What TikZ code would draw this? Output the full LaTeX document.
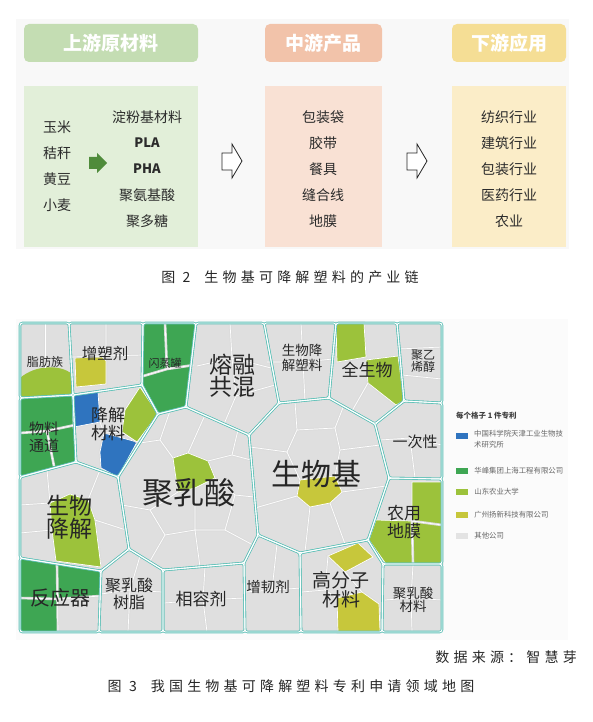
\documentclass[tikz,border=0pt]{standalone}
\usepackage{fontspec}
\setmainfont{Noto Sans CJK SC}
\newfontfamily\capfont[LetterSpace=30]{Noto Sans CJK SC}
\usetikzlibrary{positioning}

\definecolor{hdgreen}{HTML}{C4DDB3}
\definecolor{hdsalmon}{HTML}{F2C3AA}
\definecolor{hdyellow}{HTML}{F5DE95}
\definecolor{bxgreen}{HTML}{E2EFD9}
\definecolor{bxsalmon}{HTML}{F9E1D4}
\definecolor{bxyellow}{HTML}{FBEDC8}
\definecolor{arrgreen}{HTML}{4F8B3B}
\definecolor{panelbg}{HTML}{F8F8F8}
\definecolor{cellgray}{HTML}{DFDFDF}
\definecolor{tealline}{HTML}{62C2B9}
\definecolor{cblue}{HTML}{2F74BF}
\definecolor{cgreen}{HTML}{3EA653}
\definecolor{clime}{HTML}{9CC23B}
\definecolor{cyellow}{HTML}{C7C73B}
\definecolor{cother}{HTML}{E3E3E3}
\definecolor{txtdark}{HTML}{2B2B2B}

\newcommand{\fsz}[1]{\fontsize{#1}{#1}\selectfont}

% regions of the patent map
\newcommand{\rgZhifang}{(TL) -- (T1) -- (J1) -- (L3) -- cycle}
\newcommand{\rgZengsu}{(T1) -- (T2) -- (J2) -- (J1) -- cycle}
\newcommand{\rgShanzheng}{(T2) -- (T3) -- (J4) -- (J3) -- (J2) -- cycle}
\newcommand{\rgRongrong}{(T3) -- (T4) -- (J6) -- (J5) -- (J4) -- cycle}
\newcommand{\rgSwjjsl}{(T4) -- (T5) -- (J7) -- (J6) -- cycle}
\newcommand{\rgQuansw}{(T5) -- (T6) -- (J9) -- (J8) -- (J7) -- cycle}
\newcommand{\rgPva}{(T6) -- (TR) -- (R1) -- (J9) -- cycle}
\newcommand{\rgYicixing}{(J9) -- (R1) -- (R2) -- (J10) -- (J8) -- cycle}
\newcommand{\rgShengwuji}{(J6) -- (J7) -- (J8) -- (J10) -- (J11) -- (J13) -- (J14) -- (J5) -- cycle}
\newcommand{\rgNongyong}{(J10) -- (R2) -- (R3) -- (J12) -- (J11) -- cycle}
\newcommand{\rgPlacl}{(J12) -- (R3) -- (BR) -- (B1) -- cycle}
\newcommand{\rgGaofenzi}{(J11) -- (J12) -- (B1) -- (B2) -- (J13) -- cycle}
\newcommand{\rgZengren}{(J14) -- (J13) -- (B2) -- (B3) -- (J15) -- cycle}
\newcommand{\rgXiangrong}{(J15) -- (B3) -- (B4) -- (J16) -- cycle}
\newcommand{\rgPla}{(J3) -- (J4) -- (J5) -- (J14) -- (J15) -- (J16) -- (J17) -- (J19) -- cycle}
\newcommand{\rgShuzhi}{(J17) -- (J16) -- (B4) -- (B5) -- (J18) -- cycle}
\newcommand{\rgFanyingqi}{(L1) -- (J18) -- (B5) -- (BL) -- cycle}
\newcommand{\rgSwjj}{(L2) -- (J20) -- (J19) -- (J17) -- (J18) -- (L1) -- cycle}
\newcommand{\rgJjcl}{(J1) -- (J2) -- (J3) -- (J19) -- (J20) -- cycle}
\newcommand{\rgWltd}{(L3) -- (J1) -- (J20) -- (L2) -- cycle}
\newcommand{\allRegions}{\rgZhifang,\rgZengsu,\rgShanzheng,\rgRongrong,\rgSwjjsl,\rgQuansw,\rgPva,\rgYicixing,\rgShengwuji,\rgNongyong,\rgPlacl,\rgGaofenzi,\rgZengren,\rgXiangrong,\rgPla,\rgShuzhi,\rgFanyingqi,\rgSwjj,\rgJjcl,\rgWltd}

\begin{document}
\begin{tikzpicture}[x=1pt,y=-1pt,
  hdbox/.style={rounded corners=5pt, minimum width=#1, minimum height=38pt, inner sep=0pt,
    text=white, font=\fsz{19}\bfseries},
  bx/.style={minimum height=161pt, inner sep=0pt},
  item/.style={text=txtdark, font=\fsz{14}, inner sep=0pt},
  latin/.style={text=txtdark, font=\fsz{13}\bfseries, inner sep=0pt},
  openarr/.style={draw=black!85, fill=white, line width=0.8pt},
  cellline/.style={draw=white, line width=0.7pt, preaction={draw=black!14, line width=2.6pt}},
  rborder/.style={draw=tealline, line width=2.6pt, rounded corners=2.5pt},
  rgap/.style={draw=white, line width=0.9pt, rounded corners=2.5pt},
  lab/.style={text=black!85, inner sep=0pt, align=center},
  legsq/.style={minimum width=12pt, minimum height=6pt, inner sep=0pt},
  legtx/.style={text=black!60, font=\fsz{7.4}, inner sep=0pt, align=left},
  captext/.style={text=black!85, font=\capfont\fsz{14}, inner sep=0pt}]
\useasboundingbox (0,0) rectangle (592,722);
\fill[white] (0,0) rectangle (592,722);

% figure 2
\fill[panelbg] (16,19) rectangle (569,249);
\node[hdbox=174pt, fill=hdgreen] (hdUp) at (111,43) {上游原材料};
\node[hdbox=117pt, fill=hdsalmon] (hdMid) at (323.5,43) {中游产品};
\node[hdbox=114pt, fill=hdyellow] (hdDown) at (509,43) {下游应用};
\node[bx, fill=bxgreen, minimum width=174pt] (bxUp) at (111,166.5) {};
\node[bx, fill=bxsalmon, minimum width=117pt] (bxMid) at (323.5,166.5) {};
\node[bx, fill=bxyellow, minimum width=114pt] (bxDown) at (509,166.5) {};

\node[item] (raw1) at (57,127) {玉米};
\node[item] (raw2) at (57,153) {秸秆};
\node[item] (raw3) at (57,179) {黄豆};
\node[item] (raw4) at (57,205) {小麦};
\node[item] (mat1) at (147,117) {淀粉基材料};
\node[latin] (mat2) at (147,143) {PLA};
\node[latin] (mat3) at (147,169) {PHA};
\node[item] (mat4) at (147,195) {聚氨基酸};
\node[item] (mat5) at (147,221) {聚多糖};
\fill[arrgreen] (89,157) -- (97,157) -- (97,153) -- (107,163) -- (97,173) -- (97,169) -- (89,169) -- cycle;

\node[item] (prd1) at (323,117) {包装袋};
\node[item] (prd2) at (323,143) {胶带};
\node[item] (prd3) at (323,169) {餐具};
\node[item] (prd4) at (323,195) {缝合线};
\node[item] (prd5) at (323,221) {地膜};

\node[item] (app1) at (509,117) {纺织行业};
\node[item] (app2) at (509,143) {建筑行业};
\node[item] (app3) at (509,169) {包装行业};
\node[item] (app4) at (509,195) {医药行业};
\node[item] (app5) at (509,221) {农业};

\draw[openarr] (222,153) -- (232,153) -- (232,144) -- (242,161) -- (232,178) -- (232,170) -- (222,170) -- cycle;
\draw[openarr] (407,153) -- (417,153) -- (417,144) -- (427,161) -- (417,178) -- (417,170) -- (407,170) -- cycle;

\node[captext] (cap2) at (290,277) {图 2\quad 生物基可降解塑料的产业链};

% figure 3
\fill[panelbg!60!white] (16,319) rectangle (568,640);

\coordinate (TL) at (20,323);  \coordinate (T1) at (69,323);  \coordinate (T2) at (143,323);
\coordinate (T3) at (196,323); \coordinate (T4) at (264,323); \coordinate (T5) at (336,323);
\coordinate (T6) at (397,323); \coordinate (TR) at (442,323);
\coordinate (J1) at (73,395);  \coordinate (J2) at (142,385); \coordinate (J3) at (158,414);
\coordinate (J4) at (186,407); \coordinate (J5) at (249,435); \coordinate (J6) at (279,403);
\coordinate (J7) at (329,398); \coordinate (J8) at (375,424); \coordinate (J9) at (404,401);
\coordinate (R1) at (442,403); \coordinate (J10) at (389,478); \coordinate (R2) at (442,479);
\coordinate (J11) at (368,540); \coordinate (J12) at (383,564); \coordinate (R3) at (442,564);
\coordinate (BR) at (442,632); \coordinate (B1) at (382,632); \coordinate (J13) at (300,553);
\coordinate (B2) at (301,632); \coordinate (J14) at (258,535); \coordinate (J15) at (244,563);
\coordinate (B3) at (245,632); \coordinate (J16) at (163,570); \coordinate (B4) at (163,632);
\coordinate (J17) at (129,549); \coordinate (J18) at (101,571); \coordinate (B5) at (99,632);
\coordinate (BL) at (20,632);  \coordinate (L1) at (20,558);  \coordinate (J19) at (118,477);
\coordinate (J20) at (76,462); \coordinate (L2) at (20,477);  \coordinate (L3) at (20,398);

\foreach \rg in \allRegions {\fill[cellgray] \rg;}

\fill[cgreen] \rgShanzheng;
\fill[cgreen] \rgWltd;
\fill[clime] (20,378) .. controls (35,365) and (60,364) .. (72,374) -- (73,395) -- (20,398) -- cycle;
\filldraw[cyellow, cellline] (75,358) -- (101,356) -- (106,361) -- (106,384) -- (76,387) -- cycle;
\filldraw[cblue, cellline] (73,395) -- (98,392) -- (100,422) -- (74,427) -- cycle;
\filldraw[cblue, cellline] (104,433) -- (137,442) -- (118,477) -- (101,468) -- (100,452) -- cycle;
\filldraw[clime, cellline] (122,432) -- (125,410) -- (140,387) -- (158,414) -- (137,442) -- cycle;
\filldraw[clime, cellline] (336,323) -- (364,323) -- (366,357) -- (337,362) -- cycle;
\filldraw[clime, cellline] (366,360) -- (398,356) -- (404,401) -- (396,405) -- (368,383) -- cycle;
\filldraw[cyellow, cellline] (300,480) -- (335,476) -- (342,492) -- (330,503) -- (310,507) -- (297,496) -- cycle;
\filldraw[clime, cellline] (173,458) -- (188,453) -- (208,461) -- (215,478) -- (195,488) -- (178,492) -- cycle;
\filldraw[clime, cellline] (50,503) -- (70,494) -- (88,500) -- (95,520) -- (101,567) -- (56,561) -- (52,530) -- cycle;
\fill[cgreen] (20,558) -- (101,571) -- (100,596) -- (58,599) -- (58,632) -- (20,632) -- cycle;
\filldraw[cyellow, cellline] (328,556) -- (358,543) -- (373,557) -- (345,572) -- cycle;
\filldraw[cyellow, cellline] (337,598) -- (362,592) -- (379,604) -- (380,632) -- (338,632) -- cycle;
\filldraw[clime, cellline] (412,482) -- (442,482) -- (442,564) -- (386,564) -- (369,540) -- (376,520) -- (412,521) -- cycle;

\draw[cellline] (45,323) -- (45,368);
\draw[cellline] (106,323) -- (106,356) (72,357) -- (143,355);
\draw[cellline] (165,323) -- (167,369) (140,377) -- (167,369) -- (194,365);
\draw[cellline] (20,433) -- (47,431) -- (75,425) (47,431) -- (54,466);
\draw[cellline] (100,422) -- (104,433) -- (122,432);
\draw[cellline] (230,323) -- (232,358) (197,366) -- (232,358) -- (271,368)
  (232,358) -- (236,396) -- (224,424) (236,396) -- (275,385);
\draw[cellline] (301,323) -- (303,362) -- (305,401) (267,362) -- (303,362) -- (333,359);
\draw[cellline] (368,383) -- (352,411);
\draw[cellline] (398,349) -- (442,347) (402,375) -- (442,379);
\draw[cellline] (380,440) -- (410,438) -- (442,445) (410,438) -- (415,478);
\draw[cellline] (300,480) -- (287,452) -- (250,447) (287,452) -- (297,430) -- (295,402)
  (297,430) -- (335,428) -- (344,405) (335,428) -- (340,450) -- (335,476)
  (340,450) -- (380,445) (342,492) -- (386,486) (330,503) -- (345,544)
  (310,507) -- (305,552) (297,496) -- (255,508);
\draw[cellline] (173,458) -- (160,440) -- (140,443) (160,440) -- (170,411)
  (188,453) -- (205,415) (208,461) -- (232,455) -- (238,430) (232,455) -- (251,460)
  (215,478) -- (235,495) -- (254,497) (235,495) -- (225,530) -- (253,545)
  (195,488) -- (195,530) -- (225,530) (195,530) -- (165,535) -- (150,510) -- (178,492)
  (150,510) -- (122,505) (165,535) -- (150,561) (195,530) -- (200,567);
\draw[cellline] (47,470) -- (50,503) (20,505) -- (50,503) (88,500) -- (100,470)
  (95,520) -- (126,530) (52,530) -- (20,533);
\draw[cellline] (57,564) -- (58,632) (20,598) -- (58,599) -- (100,596);
\draw[cellline] (101,594) -- (130,590) -- (162,592) (130,590) -- (128,632) (130,590) -- (140,556);
\draw[cellline] (205,567) -- (203,600) -- (207,632) (164,603) -- (203,600) -- (244,598);
\draw[cellline] (277,544) -- (272,590) (245,592) -- (301,588);
\draw[cellline] (328,556) -- (325,590) -- (302,592) (325,590) -- (337,598) (345,572) -- (362,592);
\draw[cellline] (412,521) -- (413,564) (412,521) -- (442,525);
\draw[cellline] (385,600) -- (411,598) -- (442,600) (411,598) -- (412,632) (411,598) -- (413,565);

\foreach \rg in \allRegions {\draw[rborder] \rg;}
\foreach \rg in \allRegions {\draw[rgap] \rg;}

\node[lab, font=\fsz{12}] (tZhifang) at (45,362) {脂肪族};
\node[lab, font=\fsz{15.5}] (tZengsu) at (105,354) {增塑剂};
\node[lab, font=\fsz{11}] (tShanzheng) at (165,363) {闪蒸罐};
\node[lab, font=\fsz{23}] (tRongrong) at (232,376) {熔融\\[-1pt]共混};
\node[lab, font=\fsz{13.5}] (tSwjjsl) at (302,358) {生物降\\[1pt]解塑料};
\node[lab, font=\fsz{17}] (tQuansw) at (367,370) {全生物};
\node[lab, font=\fsz{12}] (tPva) at (423,361) {聚乙\\[0pt]烯醇};
\node[lab, font=\fsz{17}] (tJjcl) at (108,424) {降解\\[1pt]材料};
\node[lab, font=\fsz{15}] (tWltd) at (44,437) {物料\\[2pt]通道};
\node[lab, font=\fsz{15}] (tYicixing) at (415,442) {一次性};
\node[lab, font=\fsz{30}] (tShengwuji) at (316,474) {生物基};
\node[lab, font=\fsz{31}] (tPla) at (189,493) {聚乳酸};
\node[lab, font=\fsz{23}] (tSwjj) at (69,517) {生物\\[0pt]降解};
\node[lab, font=\fsz{20}] (tFanyingqi) at (60,598) {反应器};
\node[lab, font=\fsz{16}] (tShuzhi) at (129,594) {聚乳酸\\[1pt]树脂};
\node[lab, font=\fsz{17}] (tXiangrong) at (201,599) {相容剂};
\node[lab, font=\fsz{14.5}] (tZengren) at (268,587) {增韧剂};
\node[lab, font=\fsz{19}] (tGaofenzi) at (341,590) {高分子\\[0pt]材料};
\node[lab, font=\fsz{17}] (tNongyong) at (404,522) {农用\\[1pt]地膜};
\node[lab, font=\fsz{13.5}] (tPlacl) at (413,600) {聚乳酸\\[0pt]材料};

% legend
\node[anchor=west, inner sep=0pt, text=black!75, font=\fsz{7.5}\bfseries] (legHd) at (456,416) {每个格子 1 件专利};
\node[legsq, fill=cblue] (kBlue) at (462,436) {};
\node[legtx, anchor=north west] (lBlue) at (474,430.5) {中国科学院天津工业生物技\\[3pt]术研究所};
\node[legsq, fill=cgreen] (kGreen) at (462,471) {};
\node[legtx, right=6pt of kGreen] (lGreen) {华峰集团上海工程有限公司};
\node[legsq, fill=clime] (kLime) at (462,492) {};
\node[legtx, right=6pt of kLime] (lLime) {山东农业大学};
\node[legsq, fill=cyellow] (kYellow) at (462,515) {};
\node[legtx, right=6pt of kYellow] (lYellow) {广州扬新科技有限公司};
\node[legsq, fill=cother] (kOther) at (462,536) {};
\node[legtx, right=6pt of kOther] (lOther) {其他公司};

\node[captext, anchor=east] (src) at (577,657) {数据来源：智慧芽};
\node[captext] (cap3) at (291,686) {图 3\quad 我国生物基可降解塑料专利申请领域地图};
\end{tikzpicture}
\end{document}
